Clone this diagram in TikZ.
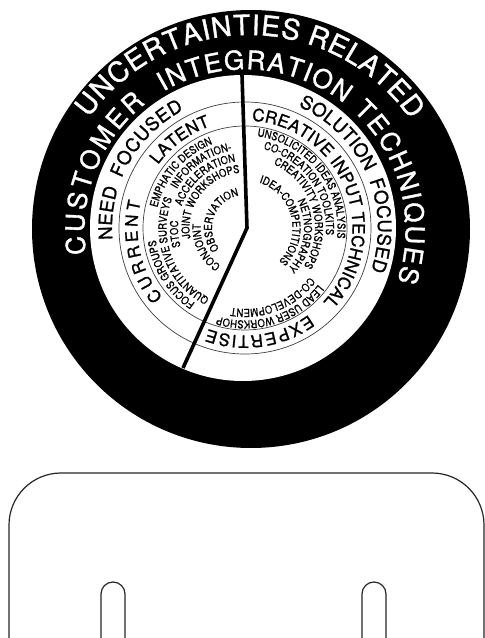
\documentclass[tikz,border=0pt]{standalone}
\usepackage{fontspec}
\usetikzlibrary{decorations.text}
\newfontfamily\hv[FakeBold=1.3]{TeX Gyre Heros}
\newfontfamily\hvr[FakeBold=1.1]{TeX Gyre Heros}
\newfontfamily\hvs[FakeStretch=0.86,FakeBold=0.9]{TeX Gyre Heros}
\newcommand\fOut{\hv\fontsize{28}{28}\selectfont\color{white}}
\newcommand\fIn{\hv\fontsize{26}{26}\selectfont\color{white}}
\newcommand\fRing{\hvr\fontsize{18.5}{18.5}\selectfont}
\newcommand\fRingB{\hvr\fontsize{17}{17}\selectfont}
\newcommand\fSmall{\hvs\fontsize{11}{11}\selectfont}
% #1 cx, #2 cy, #3 radius, #4 start angle, #5 end angle, #6 align, #7 text
\newcommand\arctext[7]{\path[shift={(#1,#2)},decorate,decoration={text along path,text align=#6,text={#7}}] (#4:#3) arc[start angle=#4,end angle=#5,radius=#3];}
\tikzset{thinring/.style={draw=black!75,line width=0.7},
  divider/.style={line width=3.6,line join=miter},
  cardline/.style={draw=black!85,line width=1.2}}
\begin{document}
\begin{tikzpicture}[x=1pt,y=1pt]
\useasboundingbox (0,0) rectangle (485,638);
\clip (0,0) rectangle (485,638);
\fill[white] (0,0) rectangle (485,638);
% discs
\fill[black] (251,409) circle[radius=219];
\fill[white] (243,410) circle[radius=153];
\path[thinring] (245,410) circle[radius=126];
\path[thinring] (245,410) circle[radius=102];
% outer ring texts
\arctext{249}{407}{196}{144.8}{75.5}{fit to path}{|\fOut|UNCERTAINTIES}
\arctext{249}{407}{196}{73}{34.5}{fit to path}{|\fOut|RELATED}
\arctext{245}{408}{160.7}{188.6}{128.2}{fit to path}{|\fIn|CUSTOMER}
\arctext{245}{408}{160.7}{120.5}{52}{fit to path}{|\fIn|INTEGRATION}
\arctext{245}{408}{160.7}{47.8}{-18.6}{fit to path}{|\fIn|TECHNIQUES}
% ring 1
\arctext{245}{410}{133}{185}{162.5}{fit to path}{|\fRing|NEED}
\arctext{245}{410}{133}{158}{117.4}{fit to path}{|\fRing|FOCUSED}
\arctext{245}{410}{133}{66.3}{25}{fit to path}{|\fRing|SOLUTION}
\arctext{245}{410}{133}{20.8}{-18.8}{fit to path}{|\fRing|FOCUSED}
% ring 2
\arctext{245}{410}{107.5}{220.2}{165.8}{fit to path}{|\fRingB|CURRENT}
\arctext{245}{410}{107.5}{144}{108.8}{fit to path}{|\fRingB|LATENT}
\arctext{245}{410}{107.5}{86.4}{-43.5}{fit to path}{|\fRingB|CREATIVE INPUT TECHNICAL}
\arctext{245}{410}{107.5}{-53.7}{-110.2}{fit to path}{|\fRingB|EXPERTISE}
% small texts, right and bottom
\arctext{245}{410}{92.5}{118}{-42}{center}{|\fSmall|UNSOLICITED IDEAS ANALYSIS}
\arctext{245}{410}{92.5}{7.5}{-152.5}{center}{|\fSmall|LEAD USER WORKSHOP}
\arctext{245}{410}{81}{116}{-44}{center}{|\fSmall|CO-CREATION TOOLKITS}
\arctext{245}{410}{81}{11.5}{-148.5}{center}{|\fSmall|CO-DEVELOPMENT}
\arctext{245}{410}{70}{96.5}{-63.5}{center}{|\fSmall|CREATIVITY WORKSHOPS}
\arctext{245}{410}{59}{72}{-88}{center}{|\fSmall|NETNOGRAPHY}
\arctext{245}{410}{47.5}{94}{-66}{center}{|\fSmall|IDEA-COMPETITIONS}
% small texts, left
\arctext{245}{410}{90}{-68}{-228}{center}{|\fSmall|FOCUS GROUPS}
\arctext{245}{410}{90}{219}{59}{center}{|\fSmall|EMPHATIC DESIGN}
\arctext{245}{410}{78.5}{280.5}{120.5}{center}{|\fSmall|QUANTITATIVE SURVEYS}
\arctext{245}{410}{78.5}{205}{45}{center}{|\fSmall|INFORMATION-}
\arctext{245}{410}{67}{209.5}{49.5}{center}{|\fSmall|ACCELERATION}
\arctext{245}{410}{67}{265}{105}{center}{|\fSmall|STOC}
\arctext{245}{410}{55.5}{223}{63}{center}{|\fSmall|JOINT WORKSHOPS}
\arctext{245}{410}{44.5}{286}{126}{center}{|\fSmall|CONJOINT}
\arctext{245}{410}{33}{240}{80}{center}{|\fSmall|OBSERVATION}
% divider
\coordinate (dtop) at (242,563);
\coordinate (dbend) at (247,410);
\coordinate (dend) at (183,270);
\draw[divider] (dtop) -- (dbend) -- (dend);
% card below
\path[cardline] (9,-5) -- (9,113) arc[start angle=180,end angle=90,radius=52] -- (432,165) arc[start angle=90,end angle=0,radius=52] -- (484,-5);
\path[cardline] (101,-5) -- (101,44) arc[start angle=180,end angle=0,radius=12] -- (125,-5);
\path[cardline] (362,-5) -- (362,44) arc[start angle=180,end angle=0,radius=12] -- (386,-5);
\end{tikzpicture}
\end{document}
